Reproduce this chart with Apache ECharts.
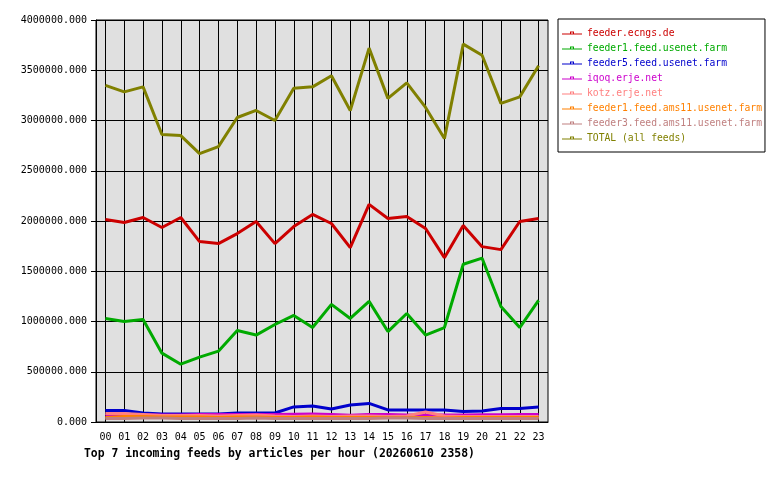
<!DOCTYPE html>
<html>
<head>
<meta charset="utf-8">
<script src="https://cdn.jsdelivr.net/npm/echarts@6/dist/echarts.min.js"></script>
<style>
  html, body { margin: 0; padding: 0; background: #fff; }
  #chart { width: 780px; height: 480px; }
</style>
</head>
<body>
<div id="chart"></div>
<script>
// hours of the day
var hours = ['00','01','02','03','04','05','06','07','08','09','10','11',
             '12','13','14','15','16','17','18','19','20','21','22','23'];

// articles per hour, per feed
var ecngs = [2015000,1985000,2035000,1935000,2035000,1795000,1775000,1875000,1995000,1775000,1945000,2065000,
             1975000,1735000,2165000,2025000,2045000,1925000,1635000,1955000,1745000,1715000,1995000,2025000];
var feed1Farm = [1030000,1000000,1020000,685000,575000,645000,705000,910000,865000,970000,1060000,940000,
                 1170000,1030000,1200000,900000,1080000,865000,940000,1570000,1630000,1150000,940000,1210000];
var feed5Farm = [115000,115000,90000,80000,80000,80000,80000,90000,90000,90000,150000,160000,
                 130000,170000,185000,120000,120000,120000,120000,105000,110000,135000,135000,150000];
var iqoq = [70000,70000,72000,70000,70000,75000,75000,75000,75000,75000,78000,80000,
            75000,68000,75000,75000,70000,70000,70000,70000,72000,72000,75000,75000];
var kotz = [85000,85000,75000,65000,65000,65000,60000,65000,70000,60000,55000,60000,
            55000,60000,60000,55000,60000,100000,60000,55000,55000,55000,55000,55000];
var feed1Ams = [45000,55000,55000,50000,50000,50000,45000,50000,50000,45000,45000,50000,
                45000,45000,45000,45000,45000,45000,40000,45000,45000,45000,45000,45000];
var feed3Ams = [35000,35000,40000,40000,35000,35000,35000,35000,40000,35000,35000,35000,
                35000,35000,35000,40000,40000,35000,35000,35000,35000,35000,35000,35000];
var total = [3350000,3285000,3335000,2860000,2850000,2670000,2740000,3030000,3100000,3000000,3320000,3335000,
             3445000,3100000,3720000,3220000,3375000,3130000,2820000,3760000,3650000,3170000,3235000,3545000];

var feeds = [
    { name: 'feeder.ecngs.de', color: '#cc0000', data: ecngs },
    { name: 'feeder1.feed.usenet.farm', color: '#00aa00', data: feed1Farm },
    { name: 'feeder5.feed.usenet.farm', color: '#0000cc', data: feed5Farm },
    { name: 'iqoq.erje.net', color: '#cc00cc', data: iqoq },
    { name: 'kotz.erje.net', color: '#ff8080', data: kotz },
    { name: 'feeder1.feed.ams11.usenet.farm', color: '#ff8000', data: feed1Ams },
    { name: 'feeder3.feed.ams11.usenet.farm', color: '#c08080', data: feed3Ams },
    { name: 'TOTAL (all feeds)', color: '#808000', data: total }
];

var mono = 'DejaVu Sans Mono';

// legend icon: thin line with a small hollow square on top
var legendIcon = 'path://M0,2H20V3H0Z M8,0H12V1H8Z M8,0H9V2H8Z M11,0H12V2H11Z';

// plot box
var plotLeft = 96, plotRight = 232, plotTop = 20, plotBottom = 58;
var halfStep = (780 - plotLeft - plotRight) / hours.length / 2;

var option = {
    animation: false,
    backgroundColor: '#fff',
    title: {
        text: 'Top 7 incoming feeds by articles per hour (20260610 2358)',
        left: 79,
        top: 444,
        textStyle: { fontFamily: mono, fontSize: 11.4, fontWeight: 'bold', color: '#000' }
    },
    legend: {
        orient: 'vertical',
        left: 558,
        top: 19,
        padding: [9, 3, 9, 4],
        itemGap: 5,
        itemWidth: 20,
        itemHeight: 3,
        icon: legendIcon,
        borderColor: '#000',
        borderWidth: 1,
        borderRadius: 0,
        textStyle: { fontFamily: mono, fontSize: 9.7, lineHeight: 10 },
        data: feeds.map(function (f) {
            return { name: f.name, icon: legendIcon, textStyle: { color: f.color } };
        })
    },
    grid: [{
        left: plotLeft, right: plotRight, top: plotTop, bottom: plotBottom,
        show: true,
        backgroundColor: '#e0e0e0',
        borderColor: '#000',
        borderWidth: 1
    }, {
        // only used to draw the vertical lines through each hour
        left: plotLeft + halfStep, right: plotRight + halfStep, top: plotTop, bottom: plotBottom,
        show: false
    }],
    xAxis: [{
        type: 'category',
        gridIndex: 0,
        data: hours,
        boundaryGap: true,
        axisLine: { lineStyle: { color: '#000' } },
        axisTick: { alignWithLabel: true, length: 4, lineStyle: { color: '#000' } },
        axisLabel: { color: '#000', fontFamily: mono, fontSize: 10, margin: 10, interval: 0 },
        splitLine: { show: false }
    }, {
        type: 'value',
        gridIndex: 1,
        min: 0,
        max: hours.length - 1,
        interval: 1,
        axisLine: { show: false },
        axisTick: { show: false },
        axisLabel: { show: false },
        splitLine: { show: true, lineStyle: { color: '#000', width: 1 } }
    }],
    yAxis: [{
        type: 'value',
        gridIndex: 0,
        min: 0,
        max: 4000000,
        interval: 500000,
        axisLine: { show: true, lineStyle: { color: '#000' } },
        axisTick: { show: true, length: 5, lineStyle: { color: '#000' } },
        axisLabel: {
            color: '#000', fontFamily: mono, fontSize: 10, margin: 9,
            formatter: function (v) { return v.toFixed(3); }
        },
        splitLine: { show: true, lineStyle: { color: '#000', width: 1 } }
    }, {
        type: 'value',
        gridIndex: 1,
        min: 0,
        max: 1,
        show: false
    }],
    series: feeds.map(function (f) {
        return {
            name: f.name,
            type: 'line',
            xAxisIndex: 0,
            yAxisIndex: 0,
            data: f.data,
            color: f.color,
            symbol: 'none',
            z: 5,
            lineStyle: { width: 3, color: f.color },
            emphasis: { disabled: true }
        };
    })
};

echarts.init(document.getElementById('chart')).setOption(option);
</script>
</body>
</html>
